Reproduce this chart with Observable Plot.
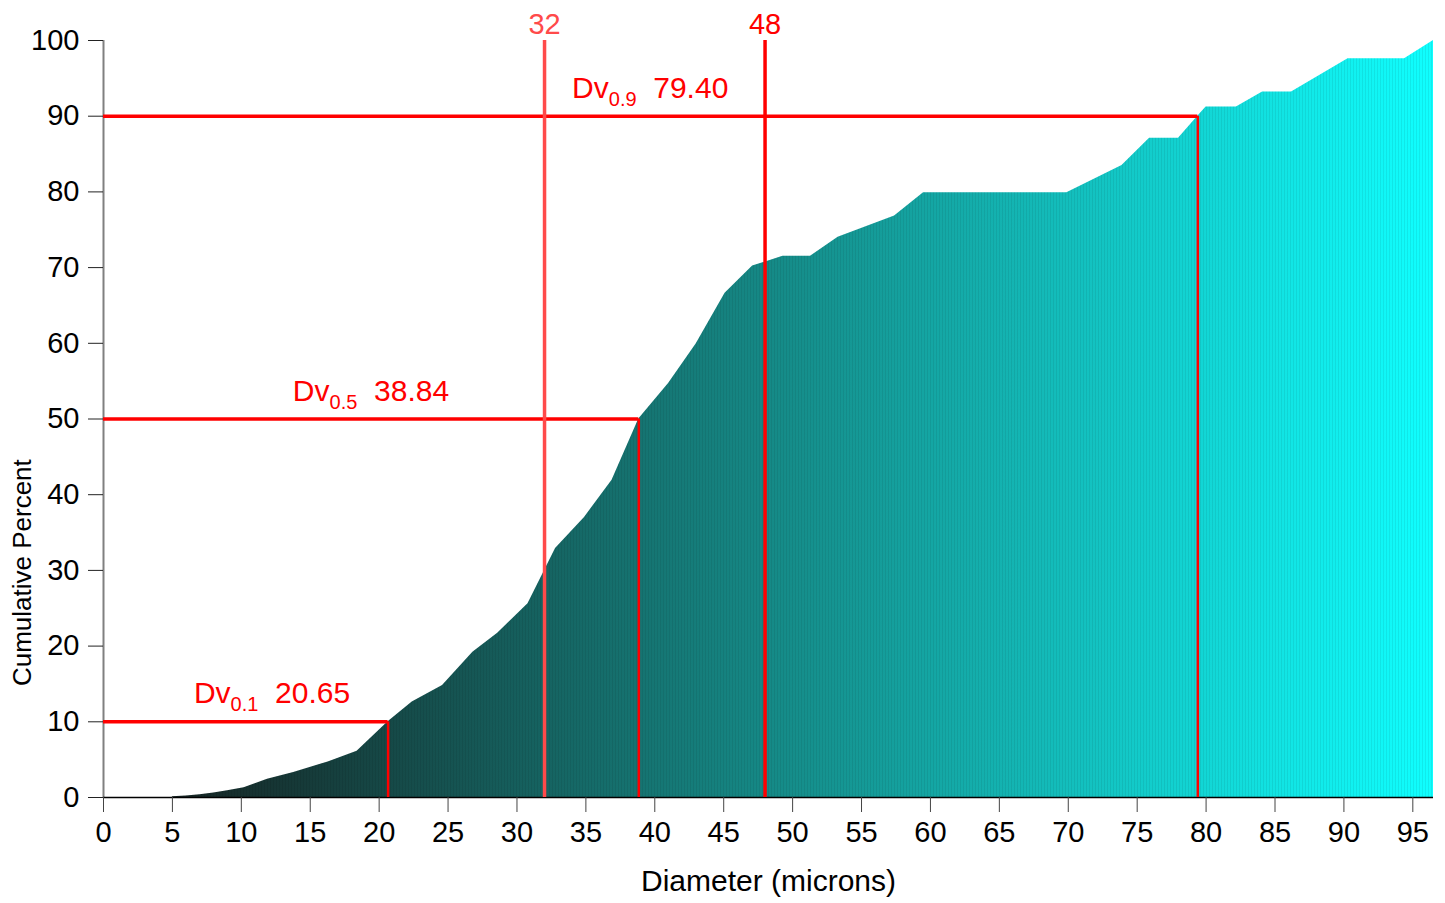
<!DOCTYPE html>
<html><head><meta charset="utf-8">
<script src="https://cdn.jsdelivr.net/npm/d3@7"></script>
<script src="https://cdn.jsdelivr.net/npm/@observablehq/plot@0.6"></script>
<style>body{margin:0;background:#fff;}</style>
</head><body><div id="chart"></div>
<script>
// Cumulative volume distribution
const diameter   = [5, 6, 7, 8, 9, 10.2, 11.9, 13.8, 16.3, 18.4, 20.65, 22.4, 24.6, 26.8, 28.6, 30.8, 32.8, 34.9, 36.9, 38.84, 41.0, 43.0, 45.1, 47.1, 49.3, 51.3, 53.3, 57.4, 59.5, 69.9, 73.9, 75.9, 78.0, 79.4, 80.0, 82.2, 84.1, 86.2, 90.3, 94.4, 96.5];
const cumPercent = [0.1, 0.2, 0.35, 0.6, 0.9, 1.3, 2.4, 3.3, 4.7, 6.1, 10, 12.6, 14.8, 19.2, 21.7, 25.6, 32.9, 37.0, 41.9, 50, 54.7, 59.9, 66.6, 70.2, 71.5, 71.5, 74.0, 76.8, 79.9, 79.9, 83.5, 87.1, 87.1, 90, 91.2, 91.2, 93.2, 93.2, 97.6, 97.6, 100];

const xTicks = [0, 5, 10, 15, 20, 25, 30, 35, 40, 45, 50, 55, 60, 65, 70, 75, 80, 85, 90, 95];
const yTicks = [0, 10, 20, 30, 40, 50, 60, 70, 80, 90, 100];

const dvNames  = ["0.1", "0.5", "0.9"];
const dvLevels = [10, 50, 90];
const dvValues = [20.65, 38.84, 79.40];
const dvLabelX = [6.56, 13.74, 34.0];

const refLines = [32, 48];

const xTitle = "Diameter (microns)";
const yTitle = "Cumulative Percent";
const yTitleAt = 29.7;

const curve = diameter.map((d, i) => ({d, p: cumPercent[i]}));
const dvIdx = dvNames.map((_, i) => i);

const plot = Plot.plot({
  width: 1445,
  height: 903,
  marginLeft: 103,
  marginRight: 12,
  marginTop: 40,
  marginBottom: 106,
  style: {fontFamily: "'Liberation Sans', Arial, sans-serif", fontSize: "29px", background: "#fff", color: "#000"},
  x: {domain: [0, 96.5]},
  y: {domain: [0, 100]},
  marks: [
    Plot.areaY(curve, {x: "d", y: "p", fill: "url(#cumGrad)", curve: "linear"}),
    Plot.areaY(curve, {x: "d", y: "p", fill: "url(#stripes)", curve: "linear"}),
    Plot.ruleX([0], {y1: 0, y2: 100, stroke: "#808080", strokeWidth: 2}),
    Plot.ruleY([0], {x1: 0, x2: 96.5, stroke: "#000", strokeWidth: 1.5}),
    Plot.axisX({ticks: xTicks, tickSize: 15, tickPadding: 9, label: null, stroke: "#444", fontSize: 29}),
    Plot.axisY({ticks: yTicks, tickSize: 15, tickPadding: 9, label: null, stroke: "#222", fontSize: 29}),
    Plot.ruleY(dvIdx, {y: i => dvLevels[i], x1: 0, x2: i => dvValues[i], stroke: "#ff0000", strokeWidth: 3.5}),
    Plot.ruleX(dvIdx, {x: i => dvValues[i], y1: 0, y2: i => dvLevels[i], stroke: "#ff0000", strokeWidth: 2.5}),
    Plot.ruleX(refLines.filter(d => d === 32), {x: d => d, y1: 0, y2: 100, stroke: "#ff4a4a", strokeWidth: 3.5}),
    Plot.ruleX(refLines.filter(d => d === 48), {x: d => d, y1: 0, y2: 100, stroke: "#ff0000", strokeWidth: 3.5}),
    Plot.text(refLines.filter(d => d === 32), {x: d => d, y: 100, dy: -16, text: d => String(d), fill: "#ff4a4a", fontSize: 29}),
    Plot.text(refLines.filter(d => d === 48), {x: d => d, y: 100, dy: -16, text: d => String(d), fill: "#ff0000", fontSize: 29}),
    Plot.text(dvIdx, {x: i => dvLabelX[i], y: i => dvLevels[i], dy: -28, text: i => `Dv|${dvNames[i]}|${dvValues[i].toFixed(2)}`,
      textAnchor: "start", fill: "#ff0000", fontSize: 30}),
    Plot.text([xTitle], {frameAnchor: "bottom", dy: 93, text: d => d, fontSize: 30}),
    Plot.text([yTitle], {x: () => 0, y: () => yTitleAt, dx: -81, rotate: -90, text: d => d, fontSize: 26})
  ]
});

// gradient + subtle stripes
const sel = d3.select(plot);
const defs = sel.insert("defs", ":first-child");
const grad = defs.append("linearGradient").attr("id", "cumGrad")
  .attr("x1", "0").attr("x2", "1").attr("y1", "0").attr("y2", "0");
grad.append("stop").attr("offset", "0").attr("stop-color", "#162423");
grad.append("stop").attr("offset", "0.5").attr("stop-color", "#158f8c");
grad.append("stop").attr("offset", "1").attr("stop-color", "#10ffff");
const pat = defs.append("pattern").attr("id", "stripes").attr("patternUnits", "userSpaceOnUse")
  .attr("width", 3).attr("height", 10);
pat.append("rect").attr("x", 0).attr("y", 0).attr("width", 1).attr("height", 10).attr("fill", "#000").attr("fill-opacity", 0.07);

// subscripted Dv labels
sel.selectAll("text").filter(function() { return this.textContent.includes("|"); }).each(function() {
  const t = d3.select(this);
  const parts = t.text().split("|");
  t.text(null).style("white-space", "pre");
  t.append("tspan").text(parts[0]);
  t.append("tspan").attr("font-size", 20).attr("dy", 8).text(parts[1]);
  t.append("tspan").attr("dy", -8).text("\u00a0\u00a0" + parts[2]);
});

document.getElementById("chart").appendChild(plot);
</script>
</body></html>
